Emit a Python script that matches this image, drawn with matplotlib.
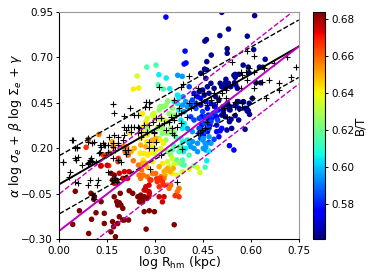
import numpy as np
import matplotlib
matplotlib.use('Agg')
import matplotlib.pyplot as plt

# B/T value of each colour group of galaxies
bt_levels = [0.563, 0.575, 0.585, 0.595, 0.605, 0.615, 0.625, 0.635, 0.642, 0.650, 0.658, 0.667, 0.675, 0.684]

x_563 = [.509,.612,.53,.503,.589,.461,.456,.526,.526,.609,.476,.462,.455,.645,.576,.592,.627,.547,.562,.551,.594,.638,.551,.522,.504,.52,.53,.549,.509,.522,.537,.553,.558,.616,.631,.605,.595,.558,.576,.553,.527,.513,.532,.563,.582,.592,.582,.562,.538,.533,.596,.589,.551,.52,.535,.514,.54,.525,.462,.459,.443,.475,.464,.485,.438,.449,.454,.469,.514,.525,.509,.535,.551,.561,.577,.587,.49,.5]
y_563 = [.948,.93,.856,.82,.817,.798,.79,.748,.723,.743,.713,.677,.636,.69,.658,.647,.647,.602,.607,.607,.616,.646,.591,.58,.558,.56,.558,.561,.539,.536,.539,.548,.53,.561,.561,.475,.448,.457,.455,.438,.448,.429,.415,.42,.42,.407,.305,.356,.36,.347,.387,.405,.38,.374,.411,.393,.31,.301,.631,.585,.613,.558,.539,.53,.512,.521,.493,.503,.411,.438,.383,.429,.438,.457,.457,.42,.484,.466]

x_575 = [.334,.394,.391,.397,.533,.547,.504,.493,.5,.422,.433,.443,.459,.475,.443,.464,.485,.454,.464,.488,.493,.483,.498,.478,.467,.457,.446,.467,.457,.472,.446,.493,.509,.446,.457,.467,.451]
y_575 = [.922,.735,.664,.67,.215,.191,.297,.292,.264,.503,.484,.475,.457,.447,.438,.42,.438,.292,.292,.429,.374,.393,.411,.365,.383,.374,.374,.356,.338,.328,.328,.328,.31,.292,.301,.31,.273]

x_585 = [.485,.469,.407,.417,.428,.412,.428,.449,.459,.475,.49,.475,.496,.412,.422,.438,.454,.469,.438,.454,.438,.443]
y_585 = [.25,.233,.539,.466,.447,.438,.42,.402,.374,.383,.402,.347,.356,.374,.356,.365,.337,.31,.31,.292,.283,.255]

x_595 = [.371,.385,.388,.451,.457,.451,.459,.407,.422,.433,.449,.459,.475,.469,.433,.412,.417,.386,.396,.401,.391,.401,.417]
y_595 = [.602,.596,.484,.255,.228,.2,.191,.228,.2,.228,.246,.209,.228,.264,.182,.209,.237,.438,.457,.429,.402,.31,.292]

x_605 = [.335,.312,.346,.373,.47,.462,.37,.375,.36,.37,.381,.391,.386,.386,.401,.381,.396,.375,.389]
y_605 = [.587,.605,.528,.488,.185,.132,.493,.475,.457,.447,.356,.337,.31,.237,.246,.209,.2,.411,.182]

x_615 = [.303,.274,.31,.326,.457,.386,.391,.375,.354,.407,.365,.381,.357,.378,.368,.383]
y_615 = [.658,.647,.55,.526,.096,.136,.108,.182,.191,.163,.264,.255,.218,.209,.136,.114]

x_625 = [.34,.316,.326,.422,.375,.354,.344,.36,.323,.313,.339,.334,.349,.36,.323,.307,.292,.276,.354,.339,.323,.334,.313,.339,.349]
y_625 = [.462,.429,.429,.105,.123,.42,.392,.383,.429,.411,.457,.438,.31,.292,.31,.31,.292,.31,.283,.283,.283,.246,.255,.182,.163]

x_635 = [.244,.294,.271,.316,.433,.44,.407,.354,.339,.344,.36,.37,.386,.297,.292,.318,.328,.339,.297,.318,.297,.26,.276,.297]
y_635 = [.598,.389,.347,.361,.094,.068,.085,.145,.127,.099,.114,.053,.072,.173,.383,.365,.356,.347,.2,.2,.365,.392,.365,.392]

x_642 = [.232,.249,.259,.323,.354,.292,.266,.276,.255,.26,.271,.266,.276,.255,.218,.263,.253,.284,.305,.3,.326,.274,.289,.316]
y_642 = [.526,.532,.389,.117,.062,.127,.173,.163,.173,.31,.337,.283,.273,.255,.288,.136,.173,.173,.191,.237,.228,.237,.209,.246]

x_650 = [.334,.339,.328,.313,.26,.271,.302,.292,.255,.271,.274,.336,.347,.331,.357,.166,.213,.225,.235]
y_650 = [.081,.09,.072,.099,.118,.118,.255,.246,.218,.209,.099,.081,.072,.053,.09,.237,.191,.182,.2]

x_658 = [.124,.292,.302,.328,.318,.232,.248,.258,.206,.216,.2,.211,.169,.263,.276,.255,.25,.339,.349,.344,.375,.37]
y_658 = [.277,.062,.062,.035,.044,.132,.108,.081,.182,.163,.209,.209,.209,.053,.044,.035,.053,-.002,-.002,-.02,-.02,-.038]

x_667 = [.091,.084,.155,.307,.323,.313,.287,.363,.375,.159,.138,.185,.284,.305,.316,.326,.184,.149]
y_667 = [.25,.206,.105,.017,.017,-.011,.026,-.06,-.066,.173,.163,.145,.026,.033,.035,.0,.127,.163]

x_675 = [.131,.15,.13,.328,.313,.323,.281,.271,.266,.281,.281,.27,.282,.188,.204,.214,.219,.199,.183,.172]
y_675 = [.105,.107,.103,-.066,-.066,-.094,-.002,-.011,-.029,-.038,-.062,-.029,-.047,.063,.072,.035,.072,.035,.008,.008]

x_684 = [.255,.266,.255,.05,.063,.042,.101,.115,.092,.141,.141,.108,.099,.11,.131,.172,.191,.18,.188,.183,.193,.199,.167,.17,.183,.199,.188,.204,.217,.162,.176,.272,.219,.23,.246,.256,.251,.261,.274,.266,.282,.298,.162,.172,.167,.178,.36]
y_684 = [-.057,-.066,-.094,-.036,-.143,-.218,-.19,-.154,-.268,-.157,-.213,-.08,-.047,-.066,-.093,-.066,-.047,-.093,-.099,-.112,-.112,-.13,-.203,-.231,-.213,-.194,-.176,-.194,-.194,-.259,-.286,-.244,-.033,-.047,-.066,-.075,-.093,-.093,-.075,-.148,-.143,-.148,.063,.053,.026,.026,-.22]

# second sample, plotted as crosses
x_plus = [.167,.172,.222,.204,.235,.246,.042,.089,.11,.05,.057,.013,.052,.099,.094,.104,.089,.172,.183,.204,.214,.225,.235,.246,.209,.225,.204,.246,.157,.199,.183,.167,.152,.136,.131,.141,.125,.146,.115,.167,.183,.193,.152,
          .096,.091,.122,.117,.033,.031,.049,.06,.013,.049,.06,.07,.091,.101,.096,.039,.054,.091,.101,.127,.143,.169,.185,.127,.175,.206,.216,.209,.107,.164,.175,.18,.154,
          .449,.405,.386,.381,.311,.273,.281,.281,.269,.454,.422,.433,.443,.407,.428,.412,.36,.375,.401,.381,.365,.349,.36,.381,.344,.313,.328,.318,.302,.281,.292,.266,.25,.255,.297,.334,.354,.37,.485,.475,
          .589,.61,.542,.568,.584,.573,.594,.61,.641,.657,.636,.615,.589,.714,.672,.74,.688,.725,.688,.646,.604,.573,.552,.531,.516,.51,.521,.568,.61,.5,.521,
          .37,.283,.318,.383,.436,.281,.302,.281,.297,.297,.276,.354,.36,.255,.104,.11,.462,.478,.493,.457,.514,.525,.551,.572,.462,.446,.441]
y_plus = [.444,.393,.42,.38,.383,.383,.246,.255,.233,.2,.209,.127,.136,.145,.127,.132,.114,.273,.264,.319,.319,.319,.319,.319,.301,.292,.273,.282,.264,.246,.218,.205,.218,.227,.209,.218,.172,.163,.127,.145,.136,.127,.182,
          .026,.0,.026,.0,.072,.044,.017,.007,.127,.145,.154,.108,.118,.127,.136,.246,.2,.237,.228,.218,.218,.228,.231,.182,.191,.191,.191,.169,-.057,.026,.035,.017,.072,
          .613,.598,.554,.539,.536,.457,.457,.429,.429,.506,.493,.53,.457,.447,.447,.42,.466,.42,.374,.392,.383,.374,.356,.337,.347,.328,.337,.365,.365,.328,.347,.328,.31,.292,.292,.301,.31,.319,.503,.466,
          .737,.71,.677,.622,.622,.603,.64,.622,.64,.576,.567,.567,.576,.7,.668,.646,.557,.59,.521,.475,.475,.447,.457,.438,.42,.502,.521,.53,.53,.475,.475,
          .013,.086,.163,.196,.286,.237,.237,.2,.2,.283,.292,.283,.273,.264,-.057,-.08,.438,.438,.457,.31,.383,.374,.429,.429,.347,.301,.282]

# fit lines, values at the two ends of the x range
line_x = [0.0, 0.75]
fit_black = [0.003, 0.76]
fit_black_up = [0.16, 0.906]
fit_black_lo = [-0.16, 0.59]
fit_mag = [-0.253, 0.76]
fit_mag_up = [-0.05, 0.977]
fit_mag_lo = [-0.46, 0.554]

x_all = [x_563, x_575, x_585, x_595, x_605, x_615, x_625, x_635, x_642, x_650, x_658, x_667, x_675, x_684]
y_all = [y_563, y_575, y_585, y_595, y_605, y_615, y_625, y_635, y_642, y_650, y_658, y_667, y_675, y_684]
xs = np.concatenate(x_all)
ys = np.concatenate(y_all)
cs = np.repeat(bt_levels, [len(a) for a in x_all])

fig = plt.figure(figsize=(3.74, 2.80), dpi=100)
ax = fig.add_axes([59.3/374, 1-239.3/280, 239.4/374, 227.3/280])
sc = ax.scatter(xs, ys, c=cs, s=16, cmap='jet', vmin=0.561, vmax=0.684, linewidths=0)
ax.scatter(x_plus, y_plus, marker='+', s=20, c='k', linewidths=0.8)

ax.plot(line_x, fit_black, 'k-', lw=1.4)
ax.plot(line_x, fit_black_up, 'k--', lw=1.0)
ax.plot(line_x, fit_black_lo, 'k--', lw=1.0)
ax.plot(line_x, fit_mag, '-', color='m', lw=1.4)
ax.plot(line_x, fit_mag_up, '--', color='m', lw=1.0)
ax.plot(line_x, fit_mag_lo, '--', color='m', lw=1.0)

ax.set_xlim(0, 0.75)
ax.set_ylim(-0.30, 0.95)
ax.set_xticks([0, 0.15, 0.30, 0.45, 0.60, 0.75])
ax.set_yticks([-0.30, -0.05, 0.20, 0.45, 0.70, 0.95])
ax.xaxis.set_major_formatter('{x:.2f}')
ax.yaxis.set_major_formatter(lambda v, p: f'{v:.2f}'.replace('-', '\u2212'))
ax.tick_params(labelsize=7.5, length=2.5, width=0.7, pad=2)
ax.set_xlabel(r'log R$_{\rm hm}$ (kpc)', fontsize=9, labelpad=-1)
ax.set_ylabel(r'$\alpha$ log $\sigma_e$ + $\beta$ log $\Sigma_e$ + $\gamma$', fontsize=9, labelpad=-2)
for side in ['top', 'right']:
    ax.spines[side].set_color('#999999')

cax = fig.add_axes([313/374, 1-239.3/280, 12/374, 227.3/280])
cb = fig.colorbar(sc, cax=cax)
cb.set_ticks([0.58, 0.60, 0.62, 0.64, 0.66, 0.68])
cb.ax.tick_params(labelsize=7.5, length=2.5, width=0.7, pad=2)
cb.set_label('B/T', fontsize=8.5, labelpad=-1)

fig.savefig('out.png', dpi=100)
